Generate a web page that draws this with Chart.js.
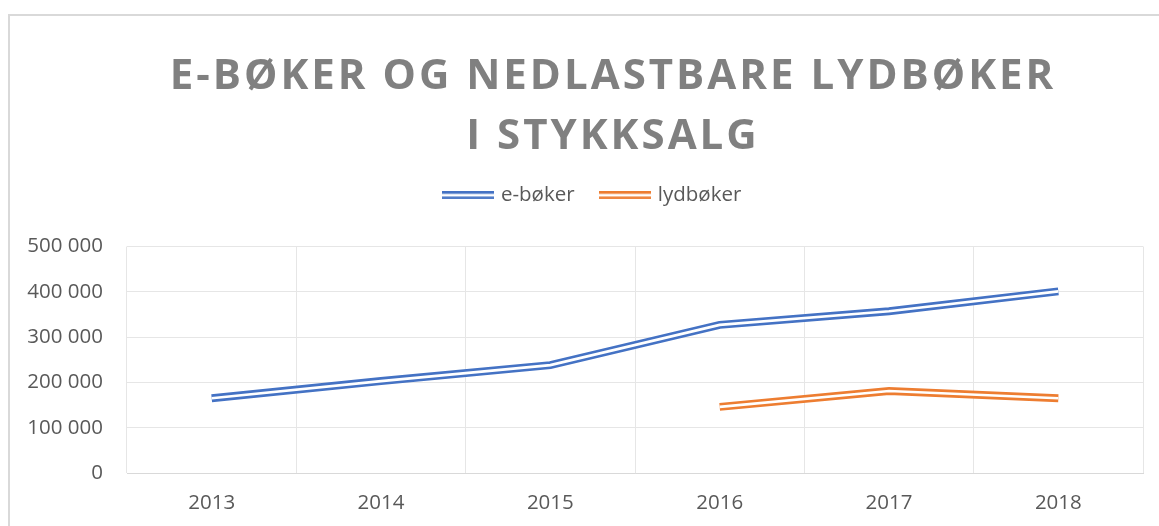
<!DOCTYPE html>
<html>
<head>
<meta charset="utf-8">
<style>
  html, body { margin: 0; padding: 0; background: #ffffff; overflow: hidden; }
  canvas { display: block; }
</style>
<script src="https://cdn.jsdelivr.net/npm/chart.js@4.4.1/dist/chart.umd.min.js"></script>
</head>
<body>
<canvas id="chart" width="1159" height="526"></canvas>
<script>
// Chart data
const years = ['2013', '2014', '2015', '2016', '2017', '2018']
const eBoker = [165000, 203000, 238000, 327000, 357000, 401000]
const lydboker = [null, null, null, 146000, 181000, 165000]
const yTickLabels = ['0', '100 000', '200 000', '300 000', '400 000', '500 000']
const titleLines = ['E-BØKER OG NEDLASTBARE LYDBØKER', 'I STYKKSALG']

const BLUE = '#4472c4'
const ORANGE = '#ed7d31'
const TEXT = '#595959'
const FONT = '"Open Sans", "Noto Sans", sans-serif'

// Legend swatch drawn as a double line, like the Excel "double" line style
function doubleLineSwatch(color) {
  const c = document.createElement('canvas')
  c.width = 52
  c.height = 8
  const g = c.getContext('2d')
  g.fillStyle = color
  g.fillRect(0, 0, 52, 2.6)
  g.fillRect(0, 5.3, 52, 2.6)
  return c
}

// Frame round the chart plus the letter-spaced title
const framePlugin = {
  id: 'frame',
  beforeDraw(chart) {
    const ctx = chart.ctx
    ctx.save()
    ctx.strokeStyle = '#d9d9d9'
    ctx.lineWidth = 2
    ctx.strokeRect(9, 15, 1400, 800)

    ctx.fillStyle = '#808080'
    ctx.font = '700 42px ' + FONT
    ctx.letterSpacing = '3px'
    ctx.textAlign = 'center'
    ctx.textBaseline = 'alphabetic'
    ctx.fillText(titleLines[0], 613, 89)
    ctx.fillText(titleLines[1], 613, 149)
    ctx.restore()
  }
}

// White stroke down the middle of each line -> double line
const doubleLinePlugin = {
  id: 'doubleLine',
  afterDatasetsDraw(chart) {
    const ctx = chart.ctx
    chart.data.datasets.forEach((ds, i) => {
      const meta = chart.getDatasetMeta(i)
      if (meta.hidden) return
      ctx.save()
      ctx.beginPath()
      let started = false
      meta.data.forEach(pt => {
        if (pt.skip) { started = false; return }
        if (started) ctx.lineTo(pt.x, pt.y)
        else ctx.moveTo(pt.x, pt.y)
        started = true
      })
      ctx.strokeStyle = '#ffffff'
      ctx.lineWidth = 2.7
      ctx.lineJoin = 'miter'
      ctx.stroke()
      ctx.restore()
    })
  }
}

// Extra room under the legend
const legendSpacer = {
  id: 'legendSpacer',
  beforeInit(chart) {
    const fit = chart.legend.fit
    chart.legend.fit = function () {
      fit.bind(chart.legend)()
      this.height += 31
    }
  }
}

const ctx = document.getElementById('chart').getContext('2d')

new Chart(ctx, {
  type: 'line',
  data: {
    labels: years,
    datasets: [
      {
        label: 'e-bøker',
        data: eBoker,
        borderColor: BLUE,
        backgroundColor: BLUE,
        borderWidth: 7.9,
        borderJoinStyle: 'miter',
        pointRadius: 0,
        pointHoverRadius: 0,
        pointStyle: doubleLineSwatch(BLUE),
        tension: 0
      },
      {
        label: 'lydbøker',
        data: lydboker,
        borderColor: ORANGE,
        backgroundColor: ORANGE,
        borderWidth: 7.9,
        borderJoinStyle: 'miter',
        pointRadius: 0,
        pointHoverRadius: 0,
        pointStyle: doubleLineSwatch(ORANGE),
        tension: 0
      }
    ]
  },
  options: {
    responsive: false,
    animation: false,
    layout: {
      padding: { top: 158, left: 27, right: 0, bottom: 0 }
    },
    plugins: {
      title: { display: false },
      tooltip: { enabled: false },
      legend: {
        position: 'top',
        labels: {
          color: TEXT,
          font: { size: 20.5, family: FONT },
          usePointStyle: true,
          pointStyleWidth: 46,
          padding: 27
        }
      }
    },
    scales: {
      x: {
        offset: true,
        grid: {
          offset: true,
          color: '#e6e6e6',
          lineWidth: 1,
          drawTicks: false
        },
        border: { color: '#d9d9d9', width: 1 },
        ticks: {
          color: TEXT,
          font: { size: 20.5, family: FONT },
          padding: 18,
          maxRotation: 0
        },
        afterFit: scale => { scale.height = 53 }
      },
      y: {
        min: 0,
        max: 500000,
        grid: {
          color: '#e6e6e6',
          lineWidth: 1,
          drawTicks: false
        },
        border: { display: false },
        ticks: {
          stepSize: 100000,
          color: TEXT,
          font: { size: 20.5, family: FONT },
          padding: 24,
          callback: value => yTickLabels[Math.round(value / 100000)]
        },
        afterFit: scale => { scale.width = 100 }
      },
      // empty margin on the right of the plot
      yRight: {
        position: 'right',
        grid: { display: false },
        border: { display: false },
        ticks: { display: false },
        afterFit: scale => { scale.width = 16 }
      }
    }
  },
  plugins: [framePlugin, doubleLinePlugin, legendSpacer]
})
</script>
</body>
</html>
